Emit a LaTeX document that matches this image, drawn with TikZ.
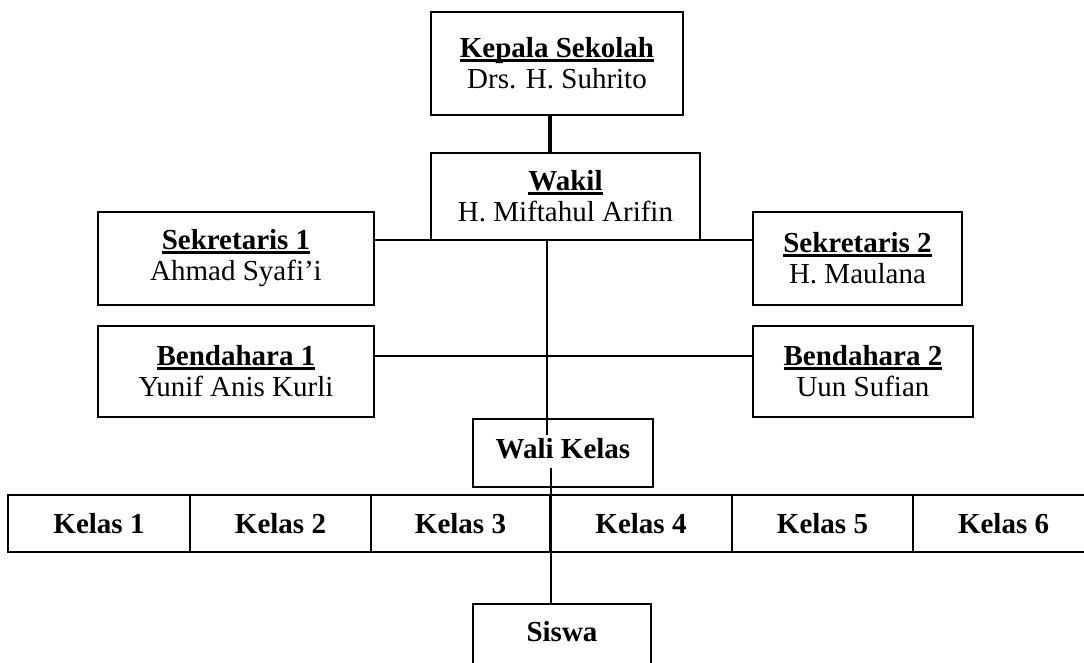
\documentclass[tikz,border=0pt]{standalone}
\usepackage{fontspec}
\setmainfont{Liberation Serif}
\newsavebox\ulsavebox
\newcommand\ulbar[1]{\sbox\ulsavebox{#1}\rlap{\rule[-4pt]{\wd\ulsavebox}{2.6pt}}\usebox\ulsavebox}
\begin{document}
\begin{tikzpicture}[x=1pt,y=-1pt,
  box/.style={draw=black, line width=2pt, rectangle, inner sep=0pt, align=center,
    font=\fontsize{29}{31}\selectfont},
  kbox/.style={box, minimum height=57, font=\fontsize{29}{31}\selectfont\bfseries},
  conn/.style={draw=black, line width=1.5pt},
  thickconn/.style={draw=black, line width=3.5pt}]
\clip (0,0) rectangle (1084,662);
\fill[white] (0,0) rectangle (1084,662);
% top boxes
\node[box, minimum width=252, minimum height=103] (kepala) at (557,63.5)
  {\textbf{\ulbar{Kepala Sekolah}}\\Drs. H. Suhrito};
\node[box, minimum width=269, minimum height=87] (wakil) at (565.5,196.5)
  {\textbf{\ulbar{Wakil}}\\H. Miftahul Arifin};
\node[box, minimum width=276, minimum height=93] (sek1) at (236,258.5)
  {\textbf{\ulbar{Sekretaris 1}}\\Ahmad Syafi’i};
\node[box, minimum width=209, minimum height=93] (sek2) at (857.5,258.5)
  {\textbf{\ulbar{Sekretaris 2}}\\H. Maulana};
\node[box, minimum width=276, minimum height=91] (ben1) at (236,371.5)
  {\textbf{\ulbar{Bendahara 1}}\\Yunif Anis Kurli};
\node[box, minimum width=220, minimum height=91] (ben2) at (863,371.5)
  {\textbf{\ulbar{Bendahara 2}}\\Uun Sufian};
\node[box, minimum width=180, minimum height=68, font=\fontsize{29}{31}\selectfont\bfseries,
  text depth=10pt] (wali) at (563,453) {Wali Kelas};
% kelas row
\node[kbox, minimum width=182] (k1) at (99,523.5) {Kelas 1};
\node[kbox, minimum width=181] (k2) at (280.5,523.5) {Kelas 2};
\node[kbox, minimum width=179] (k3) at (460.5,523.5) {Kelas 3};
\node[kbox, minimum width=182] (k4) at (641,523.5) {Kelas 4};
\node[kbox, minimum width=181] (k5) at (822.5,523.5) {Kelas 5};
\node[kbox, minimum width=181] (k6) at (1003.5,523.5) {Kelas 6};
% siswa
\node[box, minimum width=178, minimum height=72, anchor=north, text depth=17.6pt,
  font=\fontsize{29}{31}\selectfont\bfseries] (siswa) at (562,603) {Siswa};
% connectors
\draw[thickconn] ([xshift=-7pt]kepala.south) -- ([xshift=-7pt]kepala.south |- wakil.north);
\draw[conn] ([yshift=18.5pt]sek1.east) -- ([yshift=18.5pt]sek1.east -| sek2.west);
\draw[conn] ([yshift=15.5pt]ben1.east) -- ([yshift=15.5pt]ben1.east -| ben2.west);
\coordinate (w1) at (547,435);
\coordinate (w2) at (551,468);
\draw[conn] ([xshift=-18.5pt]wakil.south) -- (w1);
\draw[conn] (w2) -- (w2 |- siswa.north);
\end{tikzpicture}
\end{document}
